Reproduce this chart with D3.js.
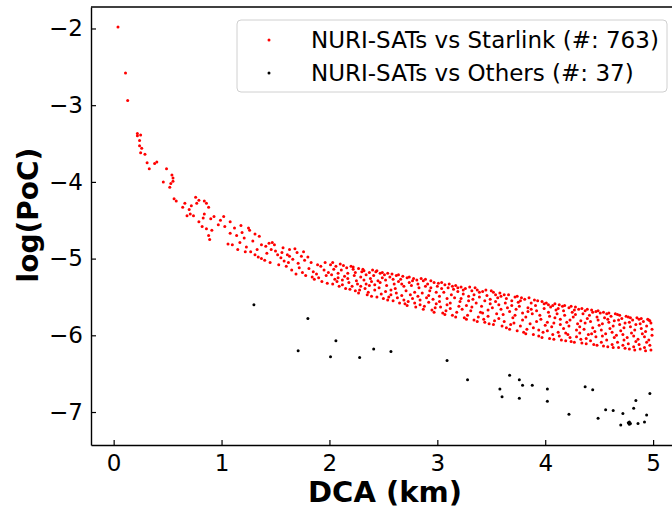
<!DOCTYPE html>
<html>
<head>
<meta charset="utf-8">
<script src="https://cdn.jsdelivr.net/npm/d3@7"></script>
<style>
	body { margin: 0; background: #fff; }
	svg { font-family: "DejaVu Sans", sans-serif; }
	.tick line { stroke: #000; stroke-width: 1.2; }
	.domain { stroke: #000; stroke-width: 1.4; }
</style>
</head>
<body>
<svg id="chart" width="672" height="514"></svg>
<script>
// series names / counts
var seriesNames = ["NURI-SATs vs Starlink (#: 763)", "NURI-SATs vs Others (#: 37)"];
var seriesColors = ["#ff0000", "#000000"];
var xTicks = [0, 1, 2, 3, 4, 5];
var yTicks = [-2, -3, -4, -5, -6, -7];

// NURI-SATs vs Starlink, [DCA km, log PoC]
var starlinkNear = [[0.04,-1.98],[0.11,-2.58],[0.13,-2.94],[0.22,-3.37],[0.22,-3.40],[0.25,-3.39],[0.24,-3.46],[0.24,-3.53],[0.26,-3.56],[0.25,-3.62],[0.29,-3.64],[0.31,-3.75],[0.33,-3.83],[0.38,-3.76],[0.40,-3.74],[0.49,-3.83],[0.46,-4.00],[0.54,-3.91],[0.55,-3.95],[0.55,-3.99],[0.53,-4.02],[0.52,-4.07],[0.56,-4.22],[0.58,-4.25],[0.66,-4.28],[0.64,-4.33],[0.70,-4.36],[0.72,-4.31],[0.76,-4.20],[0.79,-4.24],[0.77,-4.28],[0.84,-4.25],[0.86,-4.28],[0.88,-4.33],[0.71,-4.42],[0.68,-4.44],[0.74,-4.44],[0.79,-4.52],[0.84,-4.42],[0.83,-4.47],[0.82,-4.58],[0.86,-4.61],[0.90,-4.48],[0.93,-4.45],[0.91,-4.63],[0.88,-4.70],[0.89,-4.75],[0.97,-4.56],[0.99,-4.50]];
var starlinkMid = [[1.02,-4.45],[1.03,-4.58],[1.08,-4.52],[1.12,-4.60],[1.18,-4.57],[1.25,-4.60],[1.26,-4.63],[1.06,-4.81],[1.10,-4.82],[1.17,-4.79],[1.23,-4.85],[1.14,-4.70],[1.21,-4.73],[1.31,-4.68],[1.35,-4.71],[1.22,-4.91],[1.27,-4.91],[1.31,-4.95],[1.34,-4.98],[1.37,-5.00],[1.40,-5.02],[1.37,-4.82],[1.41,-4.84],[1.44,-4.80],[1.47,-4.79],[1.49,-4.82],[1.46,-4.88],[1.50,-4.90],[1.52,-4.95],[1.55,-4.99],[1.58,-5.03],[1.45,-5.05],[1.53,-5.08],[1.62,-5.05],[1.57,-4.86],[1.63,-4.88],[1.68,-4.87],[1.70,-4.92],[1.63,-4.97],[1.66,-5.01],[1.71,-5.06],[1.60,-5.10],[1.65,-5.15],[1.72,-5.12],[1.75,-5.18],[1.78,-5.22],[1.74,-4.97],[1.77,-5.02],[1.80,-4.98],[1.83,-5.05],[1.81,-5.13],[1.85,-5.17],[1.88,-5.20],[1.86,-5.27],[1.90,-5.25],[1.92,-5.10],[1.95,-5.15],[1.97,-5.22],[1.93,-5.30],[1.98,-5.32],[1.76,-4.91],[1.56,-4.92],[1.42,-4.93],[1.29,-4.77],[1.08,-4.67],[1.15,-4.88],[1.19,-4.66],[1.33,-4.88],[1.61,-4.95],[1.69,-5.20],[1.84,-5.24],[1.89,-5.08],[1.96,-5.05],[1.99,-5.18]];
var starlinkFar = [[2.01,-5.08],[2.02,-5.21],[2.03,-5.33],[2.04,-5.14],[2.05,-5.27],[2.03,-5.05],[2.06,-5.10],[2.07,-5.30],[2.08,-5.19],[2.09,-5.36],[2.10,-5.07],[2.08,-5.25],[2.11,-5.15],[2.12,-5.34],[2.13,-5.09],[2.14,-5.23],[2.15,-5.39],[2.12,-5.28],[2.16,-5.12],[2.17,-5.19],[2.18,-5.31],[2.19,-5.40],[2.20,-5.10],[2.17,-5.26],[2.21,-5.36],[2.22,-5.14],[2.23,-5.22],[2.24,-5.42],[2.25,-5.29],[2.22,-5.11],[2.24,-5.18],[2.26,-5.33],[2.27,-5.13],[2.28,-5.41],[2.29,-5.24],[2.30,-5.17],[2.27,-5.45],[2.29,-5.36],[2.31,-5.14],[2.32,-5.28],[2.33,-5.39],[2.34,-5.21],[2.35,-5.47],[2.32,-5.16],[2.34,-5.33],[2.36,-5.44],[2.37,-5.18],[2.38,-5.26],[2.39,-5.49],[2.40,-5.15],[2.37,-5.35],[2.39,-5.30],[2.41,-5.22],[2.42,-5.41],[2.43,-5.17],[2.44,-5.50],[2.45,-5.29],[2.42,-5.34],[2.44,-5.16],[2.46,-5.38],[2.47,-5.19],[2.48,-5.46],[2.49,-5.25],[2.50,-5.52],[2.47,-5.31],[2.49,-5.18],[2.51,-5.21],[2.52,-5.43],[2.53,-5.35],[2.54,-5.19],[2.55,-5.50],[2.52,-5.28],[2.54,-5.54],[2.56,-5.24],[2.57,-5.41],[2.58,-5.20],[2.59,-5.55],[2.60,-5.33],[2.57,-5.47],[2.59,-5.27],[2.61,-5.39],[2.62,-5.22],[2.63,-5.51],[2.64,-5.30],[2.65,-5.58],[2.62,-5.45],[2.64,-5.21],[2.66,-5.27],[2.67,-5.48],[2.68,-5.23],[2.69,-5.36],[2.70,-5.59],[2.67,-5.33],[2.69,-5.54],[2.71,-5.42],[2.72,-5.25],[2.73,-5.56],[2.74,-5.31],[2.75,-5.47],[2.72,-5.61],[2.74,-5.24],[2.76,-5.35],[2.77,-5.52],[2.78,-5.26],[2.79,-5.44],[2.80,-5.63],[2.77,-5.29],[2.79,-5.58],[2.81,-5.28],[2.82,-5.49],[2.83,-5.38],[2.84,-5.60],[2.85,-5.26],[2.82,-5.33],[2.84,-5.54],[2.86,-5.45],[2.87,-5.29],[2.88,-5.62],[2.89,-5.36],[2.90,-5.51],[2.87,-5.66],[2.89,-5.27],[2.91,-5.33],[2.92,-5.57],[2.93,-5.42],[2.94,-5.29],[2.95,-5.67],[2.92,-5.48],[2.94,-5.38],[2.96,-5.53],[2.97,-5.31],[2.98,-5.64],[2.99,-5.44],[3.00,-5.36],[2.97,-5.70],[2.99,-5.59],
	[3.01,-5.32],[3.02,-5.49],[3.03,-5.63],[3.04,-5.39],[3.05,-5.71],[3.02,-5.56],[3.04,-5.31],[3.06,-5.44],[3.07,-5.34],[3.08,-5.68],[3.09,-5.52],[3.10,-5.38],[3.07,-5.73],[3.09,-5.60],[3.11,-5.33],[3.12,-5.58],[3.13,-5.47],[3.14,-5.74],[3.15,-5.40],[3.12,-5.65],[3.14,-5.36],[3.16,-5.51],[3.17,-5.35],[3.18,-5.70],[3.19,-5.43],[3.20,-5.62],[3.17,-5.76],[3.19,-5.38],[3.21,-5.56],[3.22,-5.37],[3.23,-5.66],[3.24,-5.46],[3.25,-5.77],[3.22,-5.52],[3.24,-5.41],[3.26,-5.39],[3.27,-5.61],[3.28,-5.74],[3.29,-5.49],[3.30,-5.37],[3.27,-5.79],[3.29,-5.55],[3.31,-5.68],[3.32,-5.42],[3.33,-5.53],[3.34,-5.80],[3.35,-5.38],[3.32,-5.63],[3.34,-5.47],[3.36,-5.58],[3.37,-5.41],[3.38,-5.76],[3.39,-5.50],[3.40,-5.70],[3.37,-5.82],[3.39,-5.44],[3.41,-5.62],[3.42,-5.43],[3.43,-5.79],[3.44,-5.55],[3.45,-5.41],[3.42,-5.71],[3.44,-5.83],[3.46,-5.48],[3.47,-5.67],[3.48,-5.85],[3.49,-5.59],[3.50,-5.42],[3.47,-5.75],[3.49,-5.53],[3.51,-5.64],[3.52,-5.44],[3.53,-5.81],[3.54,-5.56],[3.55,-5.72],[3.52,-5.86],[3.54,-5.47],[3.56,-5.51],[3.57,-5.78],[3.58,-5.45],[3.59,-5.66],[3.60,-5.88],[3.57,-5.60],[3.59,-5.49],[3.61,-5.73],[3.62,-5.47],[3.63,-5.58],[3.64,-5.90],[3.65,-5.64],[3.62,-5.82],[3.64,-5.52],[3.66,-5.47],[3.67,-5.69],[3.68,-5.86],[3.69,-5.55],[3.70,-5.77],[3.67,-5.92],[3.69,-5.61],[3.71,-5.84],[3.72,-5.50],[3.73,-5.66],[3.74,-5.94],[3.75,-5.57],[3.72,-5.74],[3.74,-5.49],[3.76,-5.62],[3.77,-5.88],[3.78,-5.51],[3.79,-5.71],[3.80,-5.96],[3.77,-5.55],[3.79,-5.80],[3.81,-5.53],[3.82,-5.76],[3.83,-5.92],[3.84,-5.64],[3.85,-5.51],[3.82,-5.98],[3.84,-5.69],[3.86,-5.85],[3.87,-5.58],[3.88,-5.72],[3.89,-5.99],[3.90,-5.54],[3.87,-5.66],[3.89,-5.90],[3.91,-5.61],[3.92,-5.82],[3.93,-5.55],[3.94,-6.01],[3.95,-5.74],[3.92,-5.68],[3.94,-5.93],[3.96,-5.79],[3.97,-5.56],[3.98,-5.96],[3.99,-5.65],[4.00,-5.87],[3.97,-6.03],[3.99,-5.59]];
var starlinkEnd = [[4.01,-5.58],[4.02,-5.83],[4.03,-5.70],[4.04,-6.04],[4.05,-5.63],[4.02,-5.94],[4.04,-5.75],[4.03,-5.60],[4.06,-5.89],[4.07,-5.61],[4.08,-6.05],[4.09,-5.77],[4.10,-5.67],[4.07,-5.99],[4.09,-5.59],[4.08,-5.84],[4.11,-5.72],[4.12,-5.96],[4.13,-5.60],[4.14,-5.86],[4.15,-6.06],[4.12,-5.65],[4.14,-5.79],[4.13,-6.01],[4.16,-5.62],[4.17,-5.91],[4.18,-5.74],[4.19,-6.07],[4.20,-5.83],[4.17,-5.68],[4.19,-5.97],[4.18,-5.61],[4.21,-5.99],[4.22,-5.64],[4.23,-5.80],[4.24,-6.08],[4.25,-5.70],[4.22,-5.88],[4.24,-5.62],[4.23,-6.03],[4.26,-5.76],[4.27,-6.09],[4.28,-5.63],[4.29,-5.93],[4.30,-5.85],[4.27,-5.67],[4.29,-6.02],[4.28,-5.73],[4.31,-5.66],[4.32,-5.97],[4.33,-5.81],[4.34,-6.10],[4.35,-5.72],[4.32,-5.89],[4.34,-5.65],[4.33,-6.05],[4.36,-5.92],[4.37,-5.68],[4.38,-6.11],[4.39,-5.78],[4.40,-5.99],[4.37,-5.84],[4.39,-5.66],[4.38,-6.04],[4.41,-5.74],[4.42,-6.07],[4.43,-5.67],[4.44,-5.90],[4.45,-6.12],[4.42,-5.82],[4.44,-5.70],[4.43,-5.98],[4.46,-5.95],[4.47,-5.69],[4.48,-6.13],[4.49,-5.80],[4.50,-5.87],[4.47,-6.02],[4.49,-5.68],[4.48,-5.76],[4.51,-5.71],[4.52,-6.09],[4.53,-5.85],[4.54,-6.14],[4.55,-5.77],[4.52,-5.93],[4.54,-5.70],[4.53,-6.01],[4.56,-5.98],[4.57,-5.72],[4.58,-6.15],[4.59,-5.83],[4.60,-5.91],[4.57,-6.06],[4.59,-5.71],[4.58,-5.79],[4.61,-5.75],[4.62,-6.12],[4.63,-5.88],[4.64,-6.03],[4.65,-5.72],[4.62,-5.96],[4.64,-5.81],[4.63,-6.16],[4.66,-6.00],[4.67,-5.73],[4.68,-6.16],[4.69,-5.86],[4.70,-5.94],[4.67,-6.09],[4.69,-5.74],[4.68,-5.80],[4.71,-5.78],[4.72,-6.13],[4.73,-5.90],[4.74,-6.17],[4.75,-5.75],[4.72,-5.99],[4.74,-5.84],[4.73,-6.06],[4.76,-6.03],[4.77,-5.76],[4.78,-6.18],[4.79,-5.89],[4.80,-5.97],[4.77,-6.11],[4.79,-5.77],[4.78,-5.83],[4.81,-5.80],[4.82,-6.15],[4.83,-5.93],[4.84,-6.08],[4.85,-5.77],[4.82,-6.01],[4.84,-5.86],[4.83,-6.19],[4.86,-6.05],[4.87,-5.79],[4.88,-6.18],[4.89,-5.91],[4.90,-5.98],[4.87,-6.12],[4.89,-5.78],[4.88,-5.85],[4.91,-5.82],[4.92,-6.16],[4.93,-5.95],[4.94,-6.09],[4.95,-5.79],[4.92,-6.02],[4.94,-5.88],[4.93,-6.20],[4.96,-6.06],[4.97,-5.81],[4.98,-6.19],[4.99,-5.92],[4.98,-5.84],[4.97,-6.13],[4.99,-6.00],[4.96,-5.80]];

// NURI-SATs vs Others
var others = [[1.30,-5.60],[1.80,-5.78],[1.71,-6.20],[2.06,-6.07],[2.01,-6.28],[2.28,-6.29],[2.41,-6.18],[2.57,-6.21],[3.09,-6.33],[3.28,-6.58],[3.58,-6.70],[3.60,-6.80],[3.67,-6.52],[3.76,-6.58],[3.79,-6.65],[3.76,-6.82],[3.88,-6.65],[4.02,-6.70],[4.02,-6.86],[4.22,-7.03],[4.37,-6.67],[4.44,-6.71],[4.49,-7.08],[4.56,-6.97],[4.63,-6.98],[4.70,-7.17],[4.72,-7.02],[4.77,-7.14],[4.78,-7.13],[4.79,-7.15],[4.78,-7.16],[4.82,-6.95],[4.84,-6.85],[4.86,-7.15],[4.92,-7.13],[4.94,-7.04],[4.97,-6.76]];

var starlink = starlinkNear.concat(starlinkMid, starlinkFar, starlinkEnd);

var svg = d3.select("#chart");
var mLeft = 91, mRight = 679, mTop = 7, mBottom = 445;

var x = d3.scaleLinear().domain([-0.21, 5.24]).range([mLeft, mRight]);
var y = d3.scaleLinear().domain([-7.43, -1.72]).range([mBottom, mTop]);

// frame (right spine falls outside the window)
svg.append("line")
	.attr("x1", mLeft).attr("x2", mRight)
	.attr("y1", mTop).attr("y2", mTop)
	.style("stroke", "#000").style("stroke-width", 1.4);

// ticks point inward, like the original
var xAxis = svg.append("g")
	.attr("transform", "translate(0," + mBottom + ")")
	.call(d3.axisBottom(x).tickValues(xTicks).tickSize(-5).tickPadding(10).tickSizeOuter(0)
		.tickFormat(d3.format("d")));

var yAxis = svg.append("g")
	.attr("transform", "translate(" + mLeft + ",0)")
	.call(d3.axisLeft(y).tickValues(yTicks).tickSize(-5).tickPadding(8).tickSizeOuter(0)
		.tickFormat(function(d) { return "\u2212" + Math.abs(d); }));

svg.selectAll(".tick text")
	.attr("font-family", "DejaVu Sans")
	.attr("font-size", 23)
	.attr("fill", "#000");

// points
svg.append("g").selectAll("circle")
	.data(starlink)
	.enter()
	.append("circle")
	.attr("cx", function(d) { return x(d[0]); })
	.attr("cy", function(d) { return y(d[1]); })
	.attr("r", 1.5)
	.style("fill", seriesColors[0]);

svg.append("g").selectAll("circle")
	.data(others)
	.enter()
	.append("circle")
	.attr("cx", function(d) { return x(d[0]); })
	.attr("cy", function(d) { return y(d[1]); })
	.attr("r", 1.5)
	.style("fill", seriesColors[1]);

// axis labels
svg.append("text")
	.attr("x", (mLeft + mRight) / 2)
	.attr("y", 502)
	.attr("text-anchor", "middle")
	.style("font-size", "29px")
	.style("font-weight", "bold")
	.text("DCA (km)");

svg.append("text")
	.attr("transform", "translate(38,215) rotate(-90)")
	.attr("text-anchor", "middle")
	.style("font-size", "28px")
	.style("font-weight", "bold")
	.text("log(PoC)");

// legend
var legend = svg.append("g").attr("transform", "translate(237,20)");
legend.append("rect")
	.attr("width", 430)
	.attr("height", 72)
	.attr("rx", 4)
	.style("fill", "#fff")
	.style("fill-opacity", 0.8)
	.style("stroke", "#d0d0d0");
var rows = legend.selectAll("g.row")
	.data(seriesNames)
	.enter()
	.append("g")
	.attr("class", "row")
	.attr("transform", function(d, i) { return "translate(0," + (20 + i * 33) + ")"; });
rows.append("circle")
	.attr("cx", 32)
	.attr("r", 1.5)
	.style("fill", function(d, i) { return seriesColors[i]; });
rows.append("text")
	.attr("x", 74)
	.attr("dy", "0.35em")
	.style("font-size", "23px")
	.text(function(d) { return d; });
</script>
</body>
</html>
